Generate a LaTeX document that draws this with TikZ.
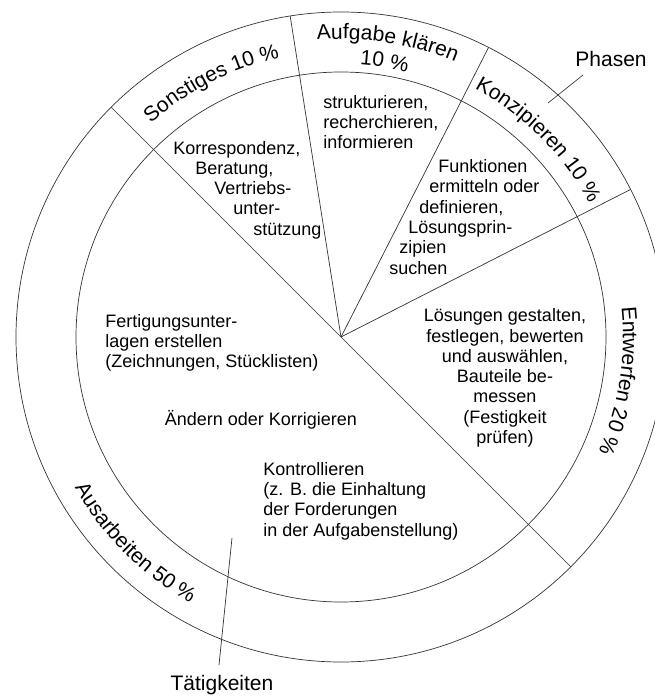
\documentclass[tikz,border=0pt]{standalone}
\usepackage{fontspec}
\setmainfont{Liberation Sans}
\usepackage{color}
\usetikzlibrary{decorations.text}

\begin{document}
\begin{tikzpicture}[%
      x=1pt, y=1pt,
      line width=0.7pt,
      taetigkeit/.style={font=\fontsize{18}{20.3}\selectfont, inner sep=0pt},
      beschriftung/.style={font=\fontsize{21}{21}\selectfont, inner sep=0pt},
      phase/.style={decorate, decoration={text along path, text align=center,
          text={|\fontsize{21}{21}\selectfont|#1}}},
      ]
      \useasboundingbox (-341,-361) rectangle (314,337);
      \clip (-341,-361) rectangle (314,337);

      % Ringe
      \draw [color=black!80] (0,0) circle (265);
      \draw [color=black!80] (0,0) circle (325);

      % Grenzen der Phasen
      \draw [color=black!80] (135:325) -- (-45:325);
      \draw [color=black!80] (0,0) -- (99:325);
      \draw [color=black!80] (0,0) -- (63:325);
      \draw [color=black!80] (0,0) -- (27:325);

      % Phasen im aeusseren Ring
      \path [phase={Sonstiges 10 {\%}}] (147:286) arc [start angle=147, end angle=87, radius=286];
      \path [phase={Aufgabe klären}] (111:298) arc [start angle=111, end angle=51, radius=298];
      \path [phase={10 {\%}}] (101:273) arc [start angle=101, end angle=61, radius=273];
      \path [phase={Konzipieren 10 {\%}}] (75:282) arc [start angle=75, end angle=15, radius=282];
      \path [phase={Entwerfen 20 {\%}}] (21:282) arc [start angle=21, end angle=-39, radius=282];
      \path [phase={Ausarbeiten 50 {\%}}] (195:306) arc [start angle=195, end angle=255, radius=306];

      % Taetigkeiten im inneren Kreis
      \node [taetigkeit, anchor=west, align=left] (informieren) at (-18,215)
            {strukturieren,\\recherchieren,\\informieren};
      \node [taetigkeit, anchor=west, align=left] (korrespondenz) at (-168,147)
            {Korrespondenz,\\\hspace*{22pt}Beratung,\\\hspace*{41pt}Vertriebs-\\\hspace*{60pt}unter-\\\hspace*{80pt}stützung};
      \node [taetigkeit, anchor=west, align=left] (funktionen) at (48,120)
            {\hspace*{49pt}Funktionen\\\hspace*{40pt}ermitteln oder\\\hspace*{30pt}definieren,\\\hspace*{19pt}Lösungsprin-\\\hspace*{10pt}zipien\\suchen};
      \node [taetigkeit, align=center] (gestalten) at (164,-41)
            {Lösungen gestalten,\\festlegen, bewerten\\und auswählen,\\Bauteile be-\\messen\\(Festigkeit\\prüfen)};
      \node [taetigkeit, anchor=west, align=left] (fertigung) at (-236,-6)
            {Fertigungsunter-\\lagen erstellen\\(Zeichnungen, Stücklisten)};
      \node [taetigkeit] (aendern) at (-80,-83) {Ändern oder Korrigieren};
      \node [taetigkeit, anchor=west, align=left] (kontrolle) at (-78,-164)
            {Kontrollieren\\(z. B. die Einhaltung\\der Forderungen\\in der Aufgabenstellung)};

      % Legende
      \node [beschriftung] (phasen) at (270,278) {Phasen};
      \node [beschriftung] (taetigkeiten) at (-119,-348) {Tätigkeiten};
      \coordinate (phasen-a) at (207,234);
      \coordinate (phasen-b) at (242,262);
      \draw [color=black!80] (phasen-a) -- (phasen-b);
      \coordinate (taet-a) at (-109,-201);
      \coordinate (taet-b) at (-122,-328);
      \draw [color=black!80] (taet-a) -- (taet-b);
\end{tikzpicture}
\end{document}
